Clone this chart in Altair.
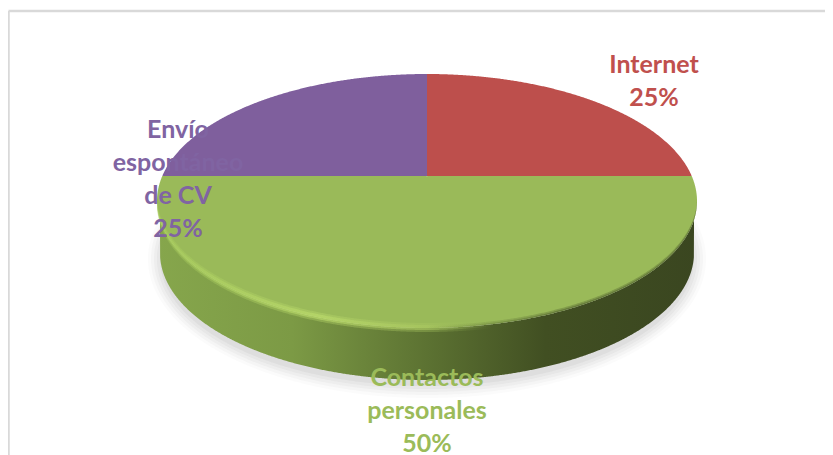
import numpy as np
import pandas as pd
import altair as alt

categories = ["Internet", "Contactos personales", "Envío espontáneo de CV"]
shares = [25, 50, 25]
colors = ["#bd4f4c", "#9aba59", "#7f5f9d"]
label_colors = ["#c0504d", "#9bbb59", "#8064a2"]
label_lines = [["Internet", "25%"], ["Contactos", "personales", "50%"], ["Envío", "espontáneo", "de CV", "25%"]]
label_x = [654, 427, 178]
label_y = [65, 378, 130]
LINE = 33

# picture-space geometry of the tilted disc
cx, cy, rx, ry = 427.0, 201.0, 270.0, 127.0
split_y = 176.0
side_cy, side_rx = 253.0, 267.0

t = np.linspace(np.pi, 0, 721)
xs = cx + rx * np.cos(t)
half = ry * np.sin(t)
top_y, bot_y = cy - half, cy + half

xscale = alt.Scale(domain=[8, 825], range=[0, 817], nice=False, zero=False)
yscale = alt.Scale(domain=[8, 455], range=[0, 447], nice=False, zero=False)


def band(x, y, y2, **mark):
    df = pd.DataFrame({"x": x, "y": y, "y2": y2})
    return alt.Chart(df).mark_area(clip=False, **mark).encode(
        x=alt.X("x:Q", scale=xscale, axis=None),
        y=alt.Y("y:Q", scale=yscale, axis=None),
        y2="y2:Q",
    )


def wedge(a0, a1):
    rows = []
    for x, a, b in zip(xs, top_y, bot_y):
        ys = np.linspace(a, b, 900)
        if a < split_y < b:
            ys = np.sort(np.append(ys, split_y))
        ang = np.degrees(np.arctan2(np.round(x - cx, 6), split_y - ys))
        keep = ys[((ang - a0) % 360) <= (a1 - a0)]
        if keep.size:
            rows.append((x, keep.min(), keep.max()))
    return np.array(rows).T


layers = []

# soft shadow under the disc
for grow, op in [(12, 0.03), (9, 0.04), (6, 0.05), (3, 0.06), (0, 0.07)]:
    srx = side_rx + grow
    st = np.linspace(np.pi, 0, 361)
    sx = cx + srx * np.cos(st)
    sh = (ry + grow) * np.sin(st)
    layers.append(band(sx, side_cy + 6 - sh, side_cy + 6 + sh, color="#707070", opacity=op))

# side wall
inside = np.abs(xs - cx) <= side_rx
side_low = np.where(
    inside,
    side_cy + ry * np.sqrt(np.clip(1 - ((xs - cx) / side_rx) ** 2, 0, 1)),
    bot_y,
)
side_gradient = alt.LinearGradient(
    gradient="linear", x1=0, x2=1, y1=0, y2=0,
    stops=[
        alt.GradientStop(offset=0, color="#86a64c"),
        alt.GradientStop(offset=0.25, color="#7c9a45"),
        alt.GradientStop(offset=0.5, color="#5c7232"),
        alt.GradientStop(offset=0.72, color="#414f22"),
        alt.GradientStop(offset=1, color="#3a4620"),
    ],
)
layers.append(band(xs, bot_y, side_low, color=side_gradient))

# slices
start = 0.0
for share, col in zip(shares, colors):
    end = start + share / sum(shares) * 360
    wx, wa, wb = wedge(start, end)
    layers.append(band(wx, wa, wb, color=col))
    start = end

# bevel highlight along the front rim, soft-edged
rim_gradient = alt.LinearGradient(
    gradient="linear", x1=0, x2=1, y1=0, y2=0,
    stops=[
        alt.GradientStop(offset=0, color="#a9cd5e"),
        alt.GradientStop(offset=0.3, color="#bcdc6c"),
        alt.GradientStop(offset=0.5, color="#a9c760"),
        alt.GradientStop(offset=0.62, color="rgba(155,187,89,0)"),
        alt.GradientStop(offset=1, color="rgba(155,187,89,0)"),
    ],
)
layers.append(band(xs, bot_y - 5, bot_y + 4, color=rim_gradient, opacity=0.35))
layers.append(band(xs, bot_y - 3, bot_y + 2, color=rim_gradient, opacity=0.6))
dark_gradient = alt.LinearGradient(
    gradient="linear", x1=0, x2=1, y1=0, y2=0,
    stops=[
        alt.GradientStop(offset=0, color="rgba(58,70,32,0)"),
        alt.GradientStop(offset=0.5, color="rgba(58,70,32,0)"),
        alt.GradientStop(offset=0.75, color="rgba(58,70,32,0.9)"),
        alt.GradientStop(offset=1, color="rgba(58,70,32,0.9)"),
    ],
)
layers.append(band(xs, bot_y - 3, bot_y, color=dark_gradient, opacity=0.3))
layers.append(band(xs, bot_y - 1.5, bot_y, color=dark_gradient, opacity=0.4))

# frame
frame = pd.DataFrame({"x": [8.5, 8.5], "y": [11, 11], "x2": [8.5, 825], "y2": [455, 11]})
layers.append(
    alt.Chart(frame).mark_rule(color="#d9d9d9", strokeWidth=2.5).encode(
        x=alt.X("x:Q", scale=xscale, axis=None),
        y=alt.Y("y:Q", scale=yscale, axis=None),
        x2="x2:Q",
        y2="y2:Q",
    )
)

# labels
rows = []
for lines, lx, ly, col in zip(label_lines, label_x, label_y, label_colors):
    for i, line in enumerate(lines):
        rows.append({"t": line, "x": lx, "y": ly + i * LINE, "c": col})
layers.append(
    alt.Chart(pd.DataFrame(rows)).mark_text(
        font="Lato", fontWeight="bold", fontSize=25, align="center", baseline="middle"
    ).encode(
        x=alt.X("x:Q", scale=xscale, axis=None),
        y=alt.Y("y:Q", scale=yscale, axis=None),
        text="t:N",
        color=alt.Color("c:N", scale=None),
    )
)

chart = alt.layer(*layers).properties(
    width=817, height=447, padding=0,
    autosize=alt.AutoSizeParams(type="none"),
    background="white",
).configure_view(stroke=None)

chart.save("out.html", embed_options={"renderer": "svg", "actions": False})
